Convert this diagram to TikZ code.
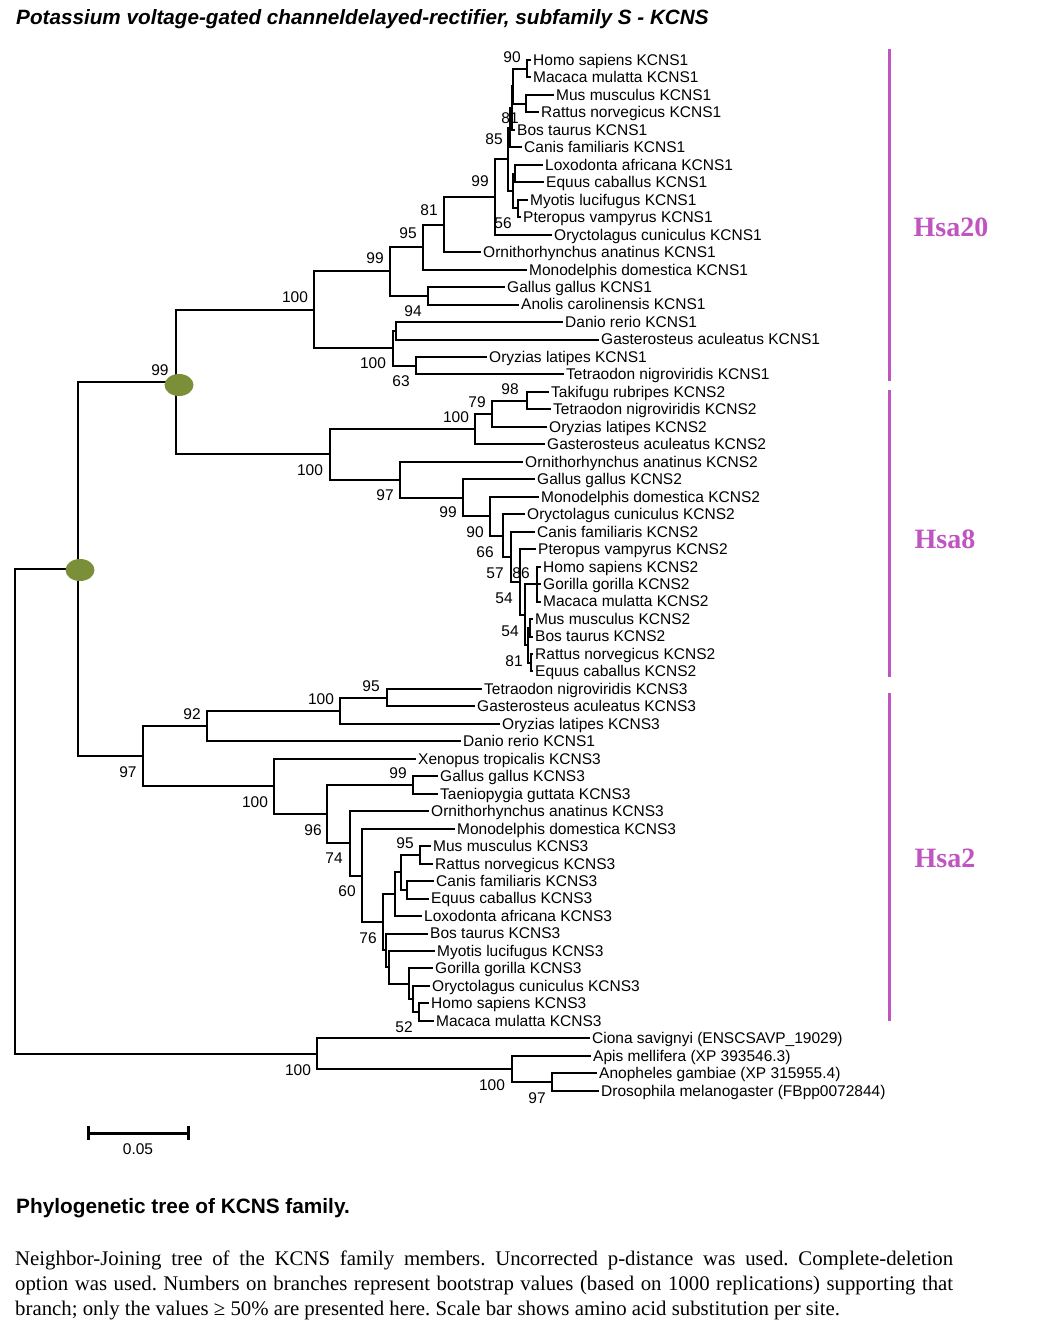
\documentclass[tikz,border=0pt]{standalone}
\usepackage{tikz}
\usepackage{fontspec}
\setmainfont{Liberation Sans}
\newfontfamily\tnr{Liberation Serif}
\usetikzlibrary{shapes.geometric}
\definecolor{hsa}{RGB}{192,84,192}
\definecolor{nodegreen}{RGB}{122,143,56}
\pgfmathdeclarefunction{rowy}{1}{\pgfmathparse{42.53+17.47*#1}}
\newcommand\fsz[1]{\fontsize{#1}{#1}\selectfont}
\newcommand\lfnode[4]{\node[leafl] (#1) at (#3-2,{rowy(#2)}) {#4};}
\frenchspacing
\tikzset{
  br/.style={line width=2pt},
  leafl/.style={anchor=west, inner xsep=2pt, inner ysep=0pt, font=\fsz{15.5}, text height=10.8pt, text depth=0pt},
  bs/.style={inner sep=0pt, font=\fsz{15.5}, text height=10.8pt, text depth=0pt},
  ell/.style={ellipse, fill=nodegreen, draw=none, minimum width=29pt, minimum height=22pt, inner sep=0pt},
  hsabar/.style={draw=hsa, line width=3pt},
  hsalab/.style={text=hsa, font=\tnr\bfseries\fsz{28}, inner sep=0pt},
  para/.style={font=\tnr\fsz{20.8}, inner sep=0pt},
}
\begin{document}
\begin{tikzpicture}[x=1pt,y=-1pt]
\fill[white] (0,0) rectangle (1046,1333);
\useasboundingbox (0,0) rectangle (1046,1333);

\node[anchor=west, inner sep=0pt, font=\fsz{20.7}\bfseries\itshape] (title) at (16,19) {Potassium voltage-gated channeldelayed-rectifier, subfamily S - KCNS};

% leaves
\lfnode{l1}{1}{533}{Homo sapiens KCNS1}
\lfnode{l2}{2}{533}{Macaca mulatta KCNS1}
\lfnode{l3}{3}{556}{Mus musculus KCNS1}
\lfnode{l4}{4}{541}{Rattus norvegicus KCNS1}
\lfnode{l5}{5}{517}{Bos taurus KCNS1}
\lfnode{l6}{6}{524}{Canis familiaris KCNS1}
\lfnode{l7}{7}{545}{Loxodonta africana KCNS1}
\lfnode{l8}{8}{546}{Equus caballus KCNS1}
\lfnode{l9}{9}{530}{Myotis lucifugus KCNS1}
\lfnode{l10}{10}{523}{Pteropus vampyrus KCNS1}
\lfnode{l11}{11}{554}{Oryctolagus cuniculus KCNS1}
\lfnode{l12}{12}{483}{Ornithorhynchus anatinus KCNS1}
\lfnode{l13}{13}{529}{Monodelphis domestica KCNS1}
\lfnode{l14}{14}{507}{Gallus gallus KCNS1}
\lfnode{l15}{15}{521}{Anolis carolinensis KCNS1}
\lfnode{l16}{16}{565}{Danio rerio KCNS1}
\lfnode{l17}{17}{601}{Gasterosteus aculeatus KCNS1}
\lfnode{l18}{18}{489}{Oryzias latipes KCNS1}
\lfnode{l19}{19}{566}{Tetraodon nigroviridis KCNS1}
\lfnode{l20}{20}{551}{Takifugu rubripes KCNS2}
\lfnode{l21}{21}{553}{Tetraodon nigroviridis KCNS2}
\lfnode{l22}{22}{549}{Oryzias latipes KCNS2}
\lfnode{l23}{23}{547}{Gasterosteus aculeatus KCNS2}
\lfnode{l24}{24}{525}{Ornithorhynchus anatinus KCNS2}
\lfnode{l25}{25}{537}{Gallus gallus KCNS2}
\lfnode{l26}{26}{541}{Monodelphis domestica KCNS2}
\lfnode{l27}{27}{527}{Oryctolagus cuniculus KCNS2}
\lfnode{l28}{28}{537}{Canis familiaris KCNS2}
\lfnode{l29}{29}{538}{Pteropus vampyrus KCNS2}
\lfnode{l30}{30}{543}{Homo sapiens KCNS2}
\lfnode{l31}{31}{543}{Gorilla gorilla KCNS2}
\lfnode{l32}{32}{543}{Macaca mulatta KCNS2}
\lfnode{l33}{33}{535}{Mus musculus KCNS2}
\lfnode{l34}{34}{535}{Bos taurus KCNS2}
\lfnode{l35}{35}{535}{Rattus norvegicus KCNS2}
\lfnode{l36}{36}{535}{Equus caballus KCNS2}
\lfnode{l37}{37}{484}{Tetraodon nigroviridis KCNS3}
\lfnode{l38}{38}{477}{Gasterosteus aculeatus KCNS3}
\lfnode{l39}{39}{502}{Oryzias latipes KCNS3}
\lfnode{l40}{40}{463}{Danio rerio KCNS1}
\lfnode{l41}{41}{418}{Xenopus tropicalis KCNS3}
\lfnode{l42}{42}{440}{Gallus gallus KCNS3}
\lfnode{l43}{43}{440}{Taeniopygia guttata KCNS3}
\lfnode{l44}{44}{431}{Ornithorhynchus anatinus KCNS3}
\lfnode{l45}{45}{457}{Monodelphis domestica KCNS3}
\lfnode{l46}{46}{433}{Mus musculus KCNS3}
\lfnode{l47}{47}{435}{Rattus norvegicus KCNS3}
\lfnode{l48}{48}{436}{Canis familiaris KCNS3}
\lfnode{l49}{49}{431}{Equus caballus KCNS3}
\lfnode{l50}{50}{424}{Loxodonta africana KCNS3}
\lfnode{l51}{51}{430}{Bos taurus KCNS3}
\lfnode{l52}{52}{437}{Myotis lucifugus KCNS3}
\lfnode{l53}{53}{435}{Gorilla gorilla KCNS3}
\lfnode{l54}{54}{432}{Oryctolagus cuniculus KCNS3}
\lfnode{l55}{55}{431}{Homo sapiens KCNS3}
\lfnode{l56}{56}{436}{Macaca mulatta KCNS3}
\lfnode{l57}{57}{592}{Ciona savignyi (ENSCSAVP\_19029)}
\lfnode{l58}{58}{593}{Apis mellifera (XP 393546.3)}
\lfnode{l59}{59}{599}{Anopheles gambiae (XP 315955.4)}
\lfnode{l60}{60}{601}{Drosophila melanogaster (FBpp0072844)}

% internal nodes
\coordinate (HM) at (527,{rowy(1.5)});
\coordinate (MR) at (526,{rowy(3.5)});
\coordinate (N4) at (513,{rowy(2.5)});
\coordinate (X1) at (512,{rowy(3.75)});
\coordinate (X2) at (510,{rowy(4.875)});
\coordinate (LE) at (515,{rowy(7.5)});
\coordinate (MP) at (518,{rowy(9.5)});
\coordinate (LM) at (513,{rowy(8.5)});
\coordinate (N1) at (508,{rowy(6.6875)});
\coordinate (G) at (495,{rowy(8.84375)});
\coordinate (F) at (444,{rowy(10.421875)});
\coordinate (E) at (423,{rowy(11.7109)});
\coordinate (GA) at (428,{rowy(14.5)});
\coordinate (D) at (390,{rowy(13.10547)});
\coordinate (K1) at (396,{rowy(16.5)});
\coordinate (OT) at (416,{rowy(18.5)});
\coordinate (K) at (393,{rowy(17.5)});
\coordinate (C) at (314,{rowy(15.302735)});
\coordinate (TT) at (527,{rowy(20.5)});
\coordinate (Nn) at (492,{rowy(21.25)});
\coordinate (M) at (475,{rowy(22.125)});
\coordinate (P3) at (537,{rowy(31)});
\coordinate (P4) at (530,{rowy(33.5)});
\coordinate (P5) at (531,{rowy(35.5)});
\coordinate (P6) at (528,{rowy(34.5)});
\coordinate (W) at (525,{rowy(32.75)});
\coordinate (V) at (520,{rowy(30.875)});
\coordinate (U) at (511,{rowy(29.4375)});
\coordinate (T) at (503,{rowy(28.21875)});
\coordinate (Rr) at (490,{rowy(27.109375)});
\coordinate (Q) at (463,{rowy(26.0546875)});
\coordinate (P) at (400,{rowy(25.02734)});
\coordinate (L) at (330,{rowy(23.57617)});
\coordinate (B) at (176,{rowy(19.43945)});
\coordinate (S95) at (387,{rowy(37.5)});
\coordinate (S100) at (340,{rowy(38.25)});
\coordinate (S92) at (207,{rowy(39.125)});
\coordinate (GT) at (413,{rowy(42.5)});
\coordinate (MR3) at (420,{rowy(46.5)});
\coordinate (CE3) at (407,{rowy(48.5)});
\coordinate (DD) at (401,{rowy(47.5)});
\coordinate (CC) at (395,{rowy(48.75)});
\coordinate (JJ) at (419,{rowy(55.5)});
\coordinate (II) at (413,{rowy(54.75)});
\coordinate (HH) at (409,{rowy(53.875)});
\coordinate (GG) at (389,{rowy(52.9375)});
\coordinate (FF) at (386,{rowy(51.96875)});
\coordinate (BB) at (383,{rowy(50.359375)});
\coordinate (AA) at (362,{rowy(47.6797)});
\coordinate (Z) at (350,{rowy(45.83984)});
\coordinate (Y2) at (327,{rowy(44.16992)});
\coordinate (Y) at (274,{rowy(42.58496)});
\coordinate (S97) at (143,{rowy(40.85498)});
\coordinate (A) at (78,{rowy(30.147215)});
\coordinate (AD) at (552,{rowy(59.5)});
\coordinate (AP) at (512,{rowy(58.75)});
\coordinate (OG) at (317,{rowy(57.875)});
\coordinate (ROOT) at (15,{rowy(44.0111)});

\foreach \a/\b in {HM/l1.west,HM/l2.west,MR/l3.west,MR/l4.west,N4/HM,N4/MR,X1/N4,X1/l5.west,
  X2/X1,X2/l6.west,LE/l7.west,LE/l8.west,MP/l9.west,MP/l10.west,LM/LE,LM/MP,N1/X2,N1/LM,
  G/N1,G/l11.west,F/G,F/l12.west,E/F,E/l13.west,GA/l14.west,GA/l15.west,D/E,D/GA,
  K1/l16.west,K1/l17.west,OT/l18.west,OT/l19.west,K/K1,K/OT,C/D,C/K,
  TT/l20.west,TT/l21.west,Nn/TT,Nn/l22.west,M/Nn,M/l23.west,
  P3/l30.west,P3/l31.west,P3/l32.west,P4/l33.west,P4/l34.west,P5/l35.west,P5/l36.west,
  P6/P4,P6/P5,W/P3,W/P6,V/l29.west,V/W,U/l28.west,U/V,T/l27.west,T/U,Rr/l26.west,Rr/T,
  Q/l25.west,Q/Rr,P/l24.west,P/Q,L/M,L/P,B/C,B/L,
  S95/l37.west,S95/l38.west,S100/S95,S100/l39.west,S92/S100,S92/l40.west,
  GT/l42.west,GT/l43.west,MR3/l46.west,MR3/l47.west,CE3/l48.west,CE3/l49.west,
  DD/MR3,DD/CE3,CC/DD,CC/l50.west,JJ/l55.west,JJ/l56.west,II/l54.west,II/JJ,
  HH/l53.west,HH/II,GG/l52.west,GG/HH,FF/l51.west,FF/GG,BB/CC,BB/FF,
  AA/l45.west,AA/BB,Z/l44.west,Z/AA,Y2/GT,Y2/Z,Y/l41.west,Y/Y2,S97/S92,S97/Y,
  A/B,A/S97,AD/l59.west,AD/l60.west,AP/l58.west,AP/AD,OG/l57.west,OG/AP,ROOT/A,ROOT/OG}
  \draw[br] (\a) |- (\b);

% bootstrap values
\foreach \x/\y/\t [count=\i] in {160/370/99,295/297/100,375/258/99,408/233/95,429/210/81,
  480/181/99,494/139/85,510/118/81,512/57/90,503/223/56,413/311/94,373/363/100,401/381/63,
  510/389/98,477/402/79,456/417/100,310/470/100,385/495/97,448/512/99,475/532/90,485/552/66,
  495/573/57,521/573/86,504/598/54,510/631/54,514/661/81,371/686/95,321/699/100,192/714/92,
  128/772/97,398/773/99,255/802/100,313/830/96,334/858/74,405/843/95,347/891/60,368/938/76,
  404/1027/52,298/1070/100,492/1085/100,537/1098/97}
  \node[bs] (bs\i) at (\x,\y) {\t};

% green markers
\node[ell] (e1) at (179,385) {};
\node[ell] (e2) at (80,570) {};

% chromosome bars
\coordinate (h1a) at (889,49);  \coordinate (h1b) at (889,381);
\coordinate (h2a) at (889,390); \coordinate (h2b) at (889,677);
\coordinate (h3a) at (889,693); \coordinate (h3b) at (889,1021);
\draw[hsabar] (h1a) -- (h1b);
\draw[hsabar] (h2a) -- (h2b);
\draw[hsabar] (h3a) -- (h3b);
\node[hsalab] (t20) at (951,227) {Hsa20};
\node[hsalab] (t8) at (945,539) {Hsa8};
\node[hsalab] (t2) at (945,858) {Hsa2};

% scale bar
\coordinate (sb1) at (88,1133); \coordinate (sb2) at (188,1133);
\draw[line width=3pt] (sb1) -- (sb2);
\draw[line width=3pt] ([yshift=7pt]sb1) -- ([yshift=-7pt]sb1);
\draw[line width=3pt] ([yshift=7pt]sb2) -- ([yshift=-7pt]sb2);
\node[bs] (sbl) at (138,1149) {0.05};

% caption
\node[anchor=west, inner sep=0pt, font=\fsz{20.8}\bfseries] (cap) at (16,1208) {Phylogenetic tree of KCNS family.};
\node[para, anchor=base west] (p1) at (15,1265) {\makebox[938pt][s]{Neighbor-Joining tree of the KCNS family members. Uncorrected p-distance was used. Complete-deletion}};
\node[para, anchor=base west] (p2) at (15,1290) {\makebox[938pt][s]{option was used. Numbers on branches represent bootstrap values (based on 1000 replications) supporting that}};
\node[para, anchor=base west] (p3) at (15,1315) {branch; only the values ≥ 50\% are presented here. Scale bar shows amino acid substitution per site.};
\end{tikzpicture}
\end{document}
